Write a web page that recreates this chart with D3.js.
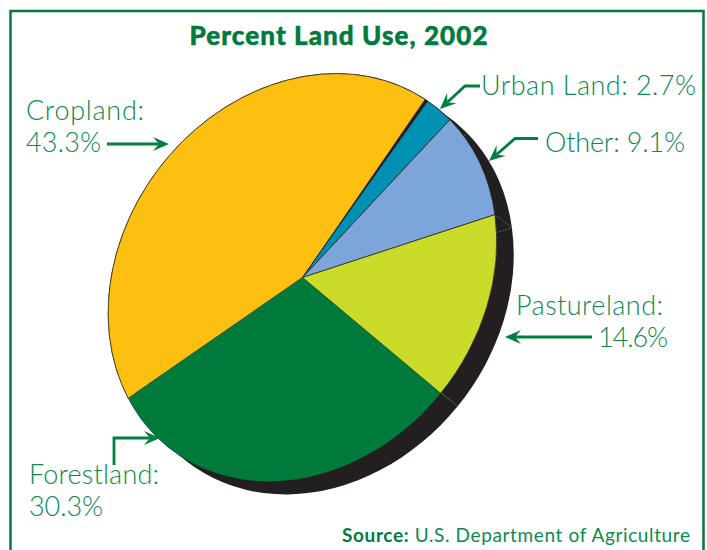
<!DOCTYPE html>
<html>
<head>
  <meta charset="utf-8">
  <title>Percent Land Use, 2002</title>
  <script src="https://d3js.org/d3.v7.min.js"></script>
  <style>
    body { margin: 0; background: white; overflow: hidden; }
    svg { display: block; }
    text { font-family: Lato, "Open Sans", sans-serif; fill: #0b8a50; }
    .label { font-size: 27px; font-weight: 300; }
    .title { font-size: 26px; font-weight: 900; fill: #007a3d; stroke: #007a3d; stroke-width: 0.5px; }
    .source { font-size: 19px; font-weight: 400; }
    .source .lead { font-weight: 700; fill: #007a3d; }
  </style>
</head>
<body>
  <div id="chart"></div>
  <script>
    // Data
    const categories = ["Cropland", "Urban Land", "Other", "Pastureland", "Forestland"];
    const shares = [43.3, 2.7, 9.1, 14.6, 30.3];
    const titleText = "Percent Land Use, 2002";
    const sourceName = "U.S. Department of Agriculture";

    const width = 707;
    const height = 550;
    const green = "#007f40";

    const svg = d3.select("#chart").append("svg")
      .attr("width", width)
      .attr("height", height);

    // Frame, open at the bottom of the page
    svg.append("rect")
      .attr("x", 10.5).attr("y", 11)
      .attr("width", 693).attr("height", 600)
      .attr("fill", "none")
      .attr("stroke", "#007a3d")
      .attr("stroke-width", 2.5);

    svg.append("text").attr("class", "title")
      .attr("x", 338.5).attr("y", 45)
      .attr("text-anchor", "middle")
      .attr("textLength", 298)
      .text(titleText);

    // The printed pie is a tilted ellipse, so the unit pie goes through a skewed matrix
    const cx = 302.5, cy = 277.5;
    const m = { xx: 193.5, xy: -17.4, yy: 203.2 };
    const shadowDx = 17, shadowDy = 13;
    const pieMatrix = (x, y) => `matrix(${m.xx},${m.xy},${m.xy},${m.yy},${x},${y})`;

    const color = d3.scaleOrdinal()
      .domain(categories)
      .range(["#fdc010", "#0090b4", "#7ca6da", "#cbdb2a", "#007a3a"]);

    const pie = d3.pie().sort(null).value(d => d.share)
      .startAngle(-121.4 * Math.PI / 180)
      .endAngle(238.6 * Math.PI / 180);
    const arc = d3.arc().innerRadius(0).outerRadius(1);

    const rows = categories.map((c, i) => ({ category: c, share: shares[i] }));
    const slices = pie(rows);

    // Point on the rim for a pie angle
    const edgePoint = a => {
      const ux = Math.sin(a), uy = -Math.cos(a);
      return [cx + m.xx * ux + m.xy * uy, cy + m.xy * ux + m.yy * uy];
    };

    // Dark drop shadow behind the pie
    svg.append("g")
      .attr("transform", pieMatrix(cx + shadowDx, cy + shadowDy))
      .selectAll("path")
      .data(slices)
      .join("path")
      .attr("d", arc)
      .attr("fill", "#231f20");

    // Seams on the shadow where two slices meet
    svg.append("g").selectAll("line")
      .data(slices.filter(d => d.data.category === "Other" || d.data.category === "Pastureland"))
      .join("line")
      .each(function(d) {
        const p = edgePoint(d.endAngle);
        d3.select(this)
          .attr("x1", p[0]).attr("y1", p[1])
          .attr("x2", p[0] + shadowDx).attr("y2", p[1] + shadowDy);
      })
      .attr("stroke", d => d.data.category === "Other" ? "#3f5f80" : "#1f5a3a")
      .attr("stroke-width", 0.7);

    // Thin dark rim under the slices
    svg.append("path")
      .attr("transform", pieMatrix(cx, cy))
      .attr("d", arc({ startAngle: 0, endAngle: 2 * Math.PI }))
      .attr("fill", "none")
      .attr("stroke", "#231f20")
      .attr("stroke-width", 0.9)
      .attr("vector-effect", "non-scaling-stroke");

    svg.append("g")
      .attr("transform", pieMatrix(cx, cy))
      .selectAll("path")
      .data(slices)
      .join("path")
      .attr("d", arc)
      .attr("fill", d => color(d.data.category))
      .attr("stroke", d => d.data.category === "Forestland" ? "none" : "#231f20")
      .attr("stroke-width", 0.7)
      .attr("vector-effect", "non-scaling-stroke");

    // The cut between cropland and urban land widens towards the rim
    const cutAngle = slices[0].endAngle;
    const cutA = edgePoint(cutAngle - 0.01);
    const cutB = edgePoint(cutAngle + 0.01);
    svg.append("path")
      .attr("d", d3.line()([[cx, cy], cutA, cutB]) + "Z")
      .attr("fill", "#231f20");

    // Arrow with a notched head, drawn along a polyline
    function arrow(points) {
      const n = points.length;
      const [tx, ty] = points[n - 1];
      const [px, py] = points[n - 2];
      const a = Math.atan2(ty - py, tx - px);
      const rot = (along, across) => [
        tx + along * Math.cos(a) - across * Math.sin(a),
        ty + along * Math.sin(a) + across * Math.cos(a)
      ];
      const neck = rot(-10, 0);
      const shaft = points.slice(0, n - 1).concat([neck]);

      svg.append("path")
        .attr("d", d3.line()(shaft))
        .attr("fill", "none")
        .attr("stroke", green)
        .attr("stroke-width", 2.8);

      svg.append("path")
        .attr("d", d3.line()([[tx, ty], rot(-16, -7), neck, rot(-16, 7)]) + "Z")
        .attr("fill", green);
    }

    arrow([[107, 144], [169, 144]]);
    arrow([[480, 86], [465, 86], [440, 109]]);
    arrow([[538, 138.5], [515, 138.5], [489, 161]]);
    arrow([[592, 337], [505, 337]]);
    arrow([[114, 465], [114, 438], [160, 438]]);

    // Labels come from the data arrays
    const pct = i => shares[i].toFixed(1) + "%";
    function label(x, y, str, len) {
      svg.append("text").attr("class", "label")
        .attr("x", x).attr("y", y)
        .attr("textLength", len)
        .text(str);
    }

    label(26, 120, categories[0] + ":", 118);
    label(26, 152, pct(0), 75);
    label(481, 95, categories[1] + ": " + pct(1), 215);
    label(545, 152, categories[2] + ": " + pct(2), 140);
    label(516, 315, categories[3] + ":", 147);
    label(598, 347, pct(3), 70);
    label(29, 484, categories[4] + ":", 130);
    label(29, 516, pct(4), 74);

    const source = svg.append("text").attr("class", "source")
      .attr("x", 342).attr("y", 542)
      .attr("textLength", 348);
    source.append("tspan").attr("class", "lead").text("Source:");
    source.append("tspan").text(" " + sourceName);
  </script>
</body>
</html>
